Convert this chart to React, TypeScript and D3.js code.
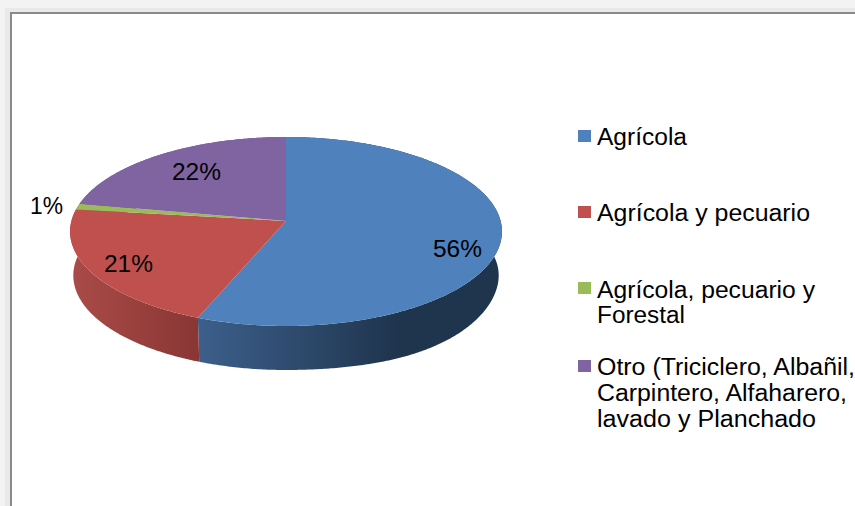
import React from 'react';
import * as d3 from 'd3';

const categories = ['Agrícola', 'Agrícola y pecuario', 'Agrícola, pecuario y Forestal', 'Otro (Triciclero, Albañil, Carpintero, Alfaharero, lavado y Planchado'];
const values = [56, 21, 1, 22];
const legendLines = [
  ['Agrícola'],
  ['Agrícola y pecuario'],
  ['Agrícola, pecuario y', 'Forestal'],
  ['Otro (Triciclero, Albañil,', 'Carpintero, Alfaharero,', 'lavado y Planchado'],
];

const colors = ['#4f81bd', '#c0504d', '#9bbb59', '#8064a2'];
const sideStops = [
  ['#3c5f8b', '#1f344d'],
  ['#a94b48', '#893634'],
  ['#7d9648', '#7d9648'],
  ['#665082', '#665082'],
];
const sideRange = [[199, 400], [73, 199], [70, 80], [70, 286]];

const labelPos = [[433, 257], [104, 272], [30, 214], [172, 180]];
const labelWidths = [49, 49, 33, 49];
const legendSwatchY = [130, 206, 282, 360];
const legendBaselines = [[144.5], [221], [298, 323], [375, 401, 427]];
const legendWidths = [[90], [213], [218, 88], [258, 250, 219]];

const width = 855;
const height = 506;
const fontSize = 23;
const fontFamily = '"Liberation Sans", Arial, sans-serif';

// pie seen in perspective: a circle pushed through a homography
const cx = 286;
const apexY = 221;
const kx = 214.6;
const ky = 68.8;
const persp = -0.111;
const depth = 44;
const bottomScale = 0.985;

const project = (theta: number): [number, number] => {
  const u = Math.sin(theta);
  const v = -Math.cos(theta);
  const w = 1 + persp * v;
  return [cx + (kx * u) / w, (ky * v + apexY) / w];
};

const lower = ([x, y]: [number, number]): [number, number] => {
  // the right side of the lower rim sits a little fuller in the source
  const u = (x - cx) / 216;
  const bulge = u > 0 ? 3 * 4 * u * u * (1 - Math.min(1, u * u)) : 0;
  return [cx + (x - cx) * bottomScale, y + depth + bulge];
};

const rimPoints = (start: number, end: number) => {
  const n = Math.max(2, Math.ceil((end - start) / 0.01));
  return d3.range(n + 1).map(i => project(start + ((end - start) * i) / n));
};

const line = d3.line<[number, number]>();

const App: React.FC = () => {
  const arcs = d3.pie<number>().sort(null).startAngle(0).endAngle(2 * Math.PI)(values);

  return (
    <svg
      width={width}
      height={height}
      style={{ position: 'absolute', left: 0, top: 0 }}
      fontFamily={fontFamily}
    >
      <defs>
        {sideStops.map((s, i) => (
          <linearGradient
            key={i}
            id={`side-${i}`}
            gradientUnits="userSpaceOnUse"
            x1={sideRange[i][0]}
            x2={sideRange[i][1]}
            y1={0}
            y2={0}
          >
            <stop offset="0" stopColor={s[0]} />
            <stop offset="1" stopColor={s[1]} />
          </linearGradient>
        ))}
      </defs>

      <rect width={width} height={height} fill="#f3f3f3" />
      <rect x={5} y={8} width={width - 5} height={height - 8} fill="#e9e9e9" />
      <rect x={10} y={12} width={width - 10} height={height - 12} fill="#8a8a8a" />
      <rect x={12} y={14} width={width - 12} height={height - 14} fill="#ffffff" />

      {/* Walls */}
      {arcs.map((a, i) => {
        const top = rimPoints(a.startAngle, a.endAngle);
        const bottom = top.map(lower).reverse();
        return <path key={i} d={(line([...top, ...bottom]) || '') + 'Z'} fill={`url(#side-${i})`} />;
      })}

      {/* Top face */}
      {arcs.map((a, i) => {
        const pts: [number, number][] = [[cx, apexY], ...rimPoints(a.startAngle, a.endAngle)];
        return <path key={i} d={(line(pts) || '') + 'Z'} fill={colors[i]} />;
      })}

      {/* Value labels */}
      {values.map((v, i) => (
        <text
          key={i}
          x={labelPos[i][0]}
          y={labelPos[i][1]}
          fontSize={fontSize}
          textLength={labelWidths[i]}
          lengthAdjust="spacingAndGlyphs"
          fill="#000"
        >
          {v}%
        </text>
      ))}

      {/* Legend */}
      {categories.map((c, i) => (
        <g key={c}>
          <rect x={578} y={legendSwatchY[i]} width={13} height={12} fill={colors[i]} />
          {legendLines[i].map((t, j) => (
            <text
              key={t}
              x={597}
              y={legendBaselines[i][j]}
              fontSize={fontSize}
              textLength={legendWidths[i][j]}
              lengthAdjust="spacingAndGlyphs"
              fill="#000"
            >
              {t}
            </text>
          ))}
        </g>
      ))}
    </svg>
  );
};

export default App;
